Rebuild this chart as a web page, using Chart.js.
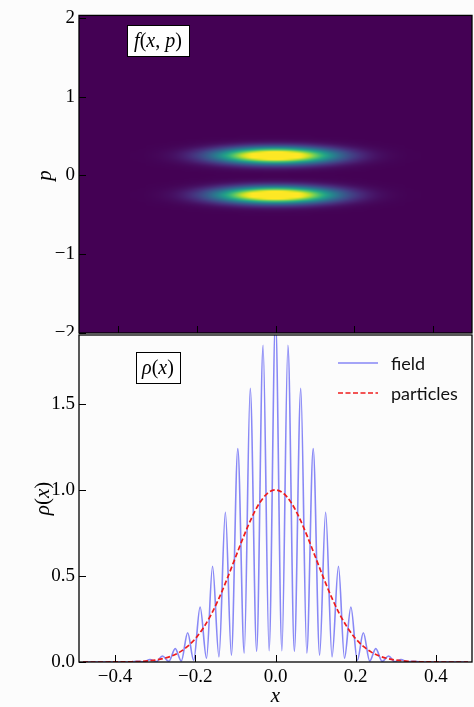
<!DOCTYPE html>
<html>
<head>
<meta charset="utf-8">
<script src="https://cdn.jsdelivr.net/npm/chart.js@4.4.1/dist/chart.umd.min.js"></script>
<style>
  html, body { margin: 0; padding: 0; background: #fcfcfc; }
  #wrap { position: relative; width: 474px; height: 707px; }
  #wrap canvas { position: absolute; left: 0; top: 0; }
</style>
</head>
<body>
<div id="wrap">
  <canvas id="phaseCanvas" width="474" height="707"></canvas>
  <canvas id="densityCanvas" width="474" height="707"></canvas>
</div>
<script>
// x grid, shared by the particle density and the phase-space map
const gridX = [-0.48, -0.46, -0.44, -0.42, -0.40, -0.38, -0.36, -0.34, -0.32, -0.30,
  -0.28, -0.26, -0.24, -0.22, -0.20, -0.18, -0.16, -0.14, -0.12, -0.10, -0.08, -0.06,
  -0.04, -0.02, 0, 0.02, 0.04, 0.06, 0.08, 0.10, 0.12, 0.14, 0.16, 0.18, 0.20, 0.22,
  0.24, 0.26, 0.28, 0.30, 0.32, 0.34, 0.36, 0.38, 0.40, 0.42, 0.44, 0.46, 0.48];
const particlesRho = [0, 0, 0.0001, 0.0001, 0.0003, 0.0007, 0.0015, 0.003, 0.006, 0.011,
  0.02, 0.034, 0.056, 0.089, 0.135, 0.198, 0.278, 0.375, 0.487, 0.607, 0.726, 0.835,
  0.923, 0.98, 1.0, 0.98, 0.923, 0.835, 0.726, 0.607, 0.487, 0.375, 0.278, 0.198, 0.135, 0.089,
  0.056, 0.034, 0.02, 0.011, 0.006, 0.003, 0.0015, 0.0007, 0.0003, 0.0001, 0.0001, 0, 0];

// p grid of the phase-space map (zero outside this band)
const gridP = [-0.5, -0.475, -0.45, -0.425, -0.4, -0.375, -0.35, -0.325, -0.3, -0.275,
  -0.25, -0.225, -0.2, -0.175, -0.15, -0.125, -0.1, -0.075, -0.05, -0.025, 0,
  0.025, 0.05, 0.075, 0.1, 0.125, 0.15, 0.175, 0.2, 0.225, 0.25,
  0.275, 0.3, 0.325, 0.35, 0.375, 0.4, 0.425, 0.45, 0.475, 0.5];
const densityP = [0.0017, 0.0057, 0.017, 0.044, 0.101, 0.203, 0.36, 0.563, 0.775, 0.938,
  1.0, 0.938, 0.775, 0.563, 0.36, 0.203, 0.101, 0.044, 0.017, 0.0057, 0.0034,
  0.0057, 0.017, 0.044, 0.101, 0.203, 0.36, 0.563, 0.775, 0.938, 1.0,
  0.938, 0.775, 0.563, 0.36, 0.203, 0.101, 0.044, 0.017, 0.0057, 0.0017];

// field density: fringe troughs and peaks
const fieldX = [-0.48, -0.40, -0.360, -0.344, -0.329, -0.313, -0.297, -0.282, -0.266, -0.250,
  -0.235, -0.219, -0.204, -0.188, -0.172, -0.157, -0.141, -0.125, -0.110, -0.094,
  -0.078, -0.063, -0.047, -0.031, -0.016, 0,
  0.016, 0.031, 0.047, 0.063, 0.078, 0.094, 0.110, 0.125, 0.141, 0.157,
  0.172, 0.188, 0.204, 0.219, 0.235, 0.250, 0.266, 0.282, 0.297, 0.313,
  0.329, 0.344, 0.360, 0.40, 0.48];
const fieldRho = [0, 0, 0, 0.004, 0.001, 0.014, 0.002, 0.035, 0.004, 0.078,
  0.005, 0.17, 0.01, 0.32, 0.022, 0.556, 0.03, 0.87, 0.04, 1.24,
  0.052, 1.59, 0.062, 1.84, 0.065, 2.0,
  0.065, 1.84, 0.062, 1.59, 0.052, 1.24, 0.04, 0.87, 0.03, 0.556,
  0.022, 0.32, 0.01, 0.17, 0.005, 0.078, 0.004, 0.035, 0.002, 0.014,
  0.001, 0.004, 0, 0, 0];

const xTicks = [-0.4, -0.2, 0, 0.2, 0.4];
const pTicks = [-2, -1, 0, 1, 2];
const rhoTicks = [0, 0.5, 1.0, 1.5];
const seriesNames = ['field', 'particles'];

const SERIF = "'Liberation Serif', 'DejaVu Serif', serif";
const SANS = "Lato, 'Open Sans', sans-serif";
const BG = '#fcfcfc';
const colourMax = 0.77;

const viridisStops = ['#440154', '#482475', '#414487', '#355f8d', '#2a788e', '#21918c',
  '#22a884', '#44bf70', '#7ad151', '#bddf26', '#fde725'].map(h => [
  parseInt(h.slice(1, 3), 16), parseInt(h.slice(3, 5), 16), parseInt(h.slice(5, 7), 16)]);

function viridis(t) {
  t = Math.max(0, Math.min(1, t)) * (viridisStops.length - 1);
  const i = Math.min(Math.floor(t), viridisStops.length - 2);
  const f = t - i, a = viridisStops[i], b = viridisStops[i + 1];
  return [0, 1, 2].map(k => Math.round(a[k] + (b[k] - a[k]) * f));
}

const minus = v => (v < 0 ? '\u2212' : '');

// text made of italic / upright runs, centred on (cx, cy)
function drawRuns(ctx, runs, cx, cy, size) {
  const font = it => (it ? 'italic ' : '') + size + 'px ' + SERIF;
  let w = 0;
  runs.forEach(([t, it]) => { ctx.font = font(it); w += ctx.measureText(t).width; });
  let x = cx - w / 2;
  ctx.textAlign = 'left';
  ctx.textBaseline = 'middle';
  ctx.fillStyle = '#000';
  runs.forEach(([t, it]) => { ctx.font = font(it); ctx.fillText(t, x, cy); x += ctx.measureText(t).width; });
}

function boxedLabel(ctx, runs, x, y, w, h) {
  ctx.fillStyle = '#fff';
  ctx.fillRect(x, y, w, h);
  ctx.strokeStyle = '#000';
  ctx.lineWidth = 1;
  ctx.strokeRect(x + 0.5, y + 0.5, w, h);
  drawRuns(ctx, runs, x + w / 2, y + h / 2 + 1, 20);
}

// inward ticks on the bottom and left edges, then the frame
function drawFrame(chart, xt, yt) {
  const {ctx, chartArea: a, scales: {x, y}} = chart;
  ctx.save();
  ctx.strokeStyle = '#000';
  ctx.lineWidth = 1;
  ctx.beginPath();
  xt.forEach(v => {
    const px = Math.round(x.getPixelForValue(v)) + 0.5;
    ctx.moveTo(px, a.bottom); ctx.lineTo(px, a.bottom - 7);
  });
  yt.forEach(v => {
    const py = Math.round(y.getPixelForValue(v)) + 0.5;
    ctx.moveTo(a.left, py); ctx.lineTo(a.left + 7, py);
  });
  ctx.stroke();
  ctx.lineWidth = 1.3;
  ctx.strokeRect(a.left, a.top, a.right - a.left, a.bottom - a.top);
  ctx.restore();
}

function fixedTicks(values) {
  return scale => { scale.ticks = values.map(v => ({value: v})); };
}

const phaseMap = {
  id: 'phaseMap',
  beforeDatasetsDraw(chart) {
    const {ctx, chartArea: a, scales: {x, y}} = chart;
    ctx.save();
    ctx.beginPath();
    ctx.rect(a.left, a.top, a.right - a.left, a.bottom - a.top);
    ctx.clip();
    const c0 = viridis(0);
    ctx.fillStyle = `rgb(${c0[0]},${c0[1]},${c0[2]})`;
    ctx.fillRect(a.left, a.top, a.right - a.left, a.bottom - a.top);

    // one pixel per (x, p) cell, scaled onto the axes with smoothing
    const img = document.createElement('canvas');
    img.width = gridX.length;
    img.height = gridP.length;
    const ictx = img.getContext('2d');
    const pix = ictx.createImageData(img.width, img.height);
    for (let j = 0; j < img.height; j++) {
      const pv = densityP[img.height - 1 - j];
      for (let i = 0; i < img.width; i++) {
        const c = viridis(particlesRho[i] * pv / colourMax);
        const k = (j * img.width + i) * 4;
        pix.data[k] = c[0]; pix.data[k + 1] = c[1]; pix.data[k + 2] = c[2]; pix.data[k + 3] = 255;
      }
    }
    ictx.putImageData(pix, 0, 0);
    const dx = gridX[1] - gridX[0], dp = gridP[1] - gridP[0];
    const left = x.getPixelForValue(gridX[0] - dx / 2);
    const right = x.getPixelForValue(gridX[gridX.length - 1] + dx / 2);
    const top = y.getPixelForValue(gridP[gridP.length - 1] + dp / 2);
    const bottom = y.getPixelForValue(gridP[0] - dp / 2);
    ctx.imageSmoothingEnabled = true;
    ctx.imageSmoothingQuality = 'high';
    ctx.drawImage(img, left, top, right - left, bottom - top);
    ctx.restore();
  },
  afterDraw(chart) {
    const ctx = chart.ctx;
    drawFrame(chart, xTicks, pTicks);
    ctx.save();
    boxedLabel(ctx, [['f', true], ['(', false], ['x', true], [', ', false], ['p', true], [')', false]], 127, 25, 62, 31);
    ctx.translate(45, chart.scales.y.getPixelForValue(0));
    ctx.rotate(-Math.PI / 2);
    drawRuns(ctx, [['p', true]], 0, 0, 21);
    ctx.restore();
  }
};

const densityDecor = {
  id: 'densityDecor',
  beforeDraw(chart) {
    const ctx = chart.ctx;
    ctx.save();
    ctx.fillStyle = BG;
    ctx.fillRect(0, 336, chart.width, chart.height - 336);
    ctx.restore();
  },
  afterDraw(chart) {
    const {ctx, chartArea: a} = chart;
    drawFrame(chart, xTicks, rhoTicks);
    ctx.save();
    boxedLabel(ctx, [['\u03c1', true], ['(', false], ['x', true], [')', false]], 136, 352, 44, 31);

    // legend
    const rows = [363, 393];
    chart.data.datasets.forEach((ds, i) => {
      ctx.strokeStyle = ds.borderColor;
      ctx.lineWidth = ds.borderWidth;
      ctx.setLineDash(ds.borderDash || []);
      ctx.beginPath();
      ctx.moveTo(338, rows[i]); ctx.lineTo(378, rows[i]);
      ctx.stroke();
      ctx.setLineDash([]);
      ctx.fillStyle = '#111';
      ctx.font = '18px ' + SANS;
      ctx.textAlign = 'left';
      ctx.textBaseline = 'middle';
      ctx.fillText(ds.label, 391, rows[i] + 1);
    });

    // axis titles
    drawRuns(ctx, [['x', true]], (a.left + a.right) / 2, 696, 21);
    ctx.translate(43, (a.top + a.bottom) / 2);
    ctx.rotate(-Math.PI / 2);
    drawRuns(ctx, [['\u03c1', true], ['(', false], ['x', true], [')', false]], 0, 0, 21);
    ctx.restore();
  }
};

const tickFont = {family: SERIF, size: 19};

new Chart(document.getElementById('phaseCanvas'), {
  type: 'scatter',
  data: {datasets: []},
  options: {
    responsive: false,
    animation: false,
    layout: {padding: {left: 0, right: 2, top: 7, bottom: 374}},
    plugins: {legend: {display: false}, tooltip: {enabled: false}},
    scales: {
      x: {type: 'linear', min: -0.5, max: 0.5, display: false},
      y: {
        type: 'linear', min: -2, max: 2.03,
        afterBuildTicks: fixedTicks(pTicks),
        afterFit: s => { s.width = 79; },
        grid: {display: false, drawTicks: false},
        border: {display: false},
        ticks: {font: tickFont, color: '#000', padding: 4, autoSkip: false,
          callback: v => minus(v) + Math.abs(v)}
      }
    }
  },
  plugins: [phaseMap]
});

new Chart(document.getElementById('densityCanvas'), {
  type: 'line',
  data: {
    datasets: [
      {
        label: seriesNames[0],
        data: fieldX.map((x, i) => ({x, y: fieldRho[i]})),
        borderColor: 'rgba(40, 40, 240, 0.55)',
        borderWidth: 1.6,
        cubicInterpolationMode: 'monotone',
        pointRadius: 0,
        order: 2
      },
      {
        label: seriesNames[1],
        data: gridX.map((x, i) => ({x, y: particlesRho[i]})),
        borderColor: '#ee1c1c',
        borderWidth: 1.7,
        borderDash: [5, 2.5],
        cubicInterpolationMode: 'monotone',
        pointRadius: 0,
        order: 1
      }
    ]
  },
  options: {
    responsive: false,
    animation: false,
    layout: {padding: {left: 0, right: 2, top: 335, bottom: 0}},
    plugins: {legend: {display: false}, tooltip: {enabled: false}},
    scales: {
      x: {
        type: 'linear', min: -0.49, max: 0.49,
        afterBuildTicks: fixedTicks(xTicks),
        afterFit: s => { s.height = 45; },
        grid: {display: false, drawTicks: false},
        border: {display: false},
        ticks: {font: tickFont, color: '#000', padding: 4, autoSkip: false, maxRotation: 0,
          callback: v => minus(v) + Math.abs(v).toFixed(1)}
      },
      y: {
        type: 'linear', min: 0, max: 1.9,
        afterBuildTicks: fixedTicks(rhoTicks),
        afterFit: s => { s.width = 79; },
        grid: {display: false, drawTicks: false},
        border: {display: false},
        ticks: {font: tickFont, color: '#000', padding: 4, autoSkip: false,
          callback: v => v.toFixed(1)}
      }
    }
  },
  plugins: [densityDecor]
});
</script>
</body>
</html>
